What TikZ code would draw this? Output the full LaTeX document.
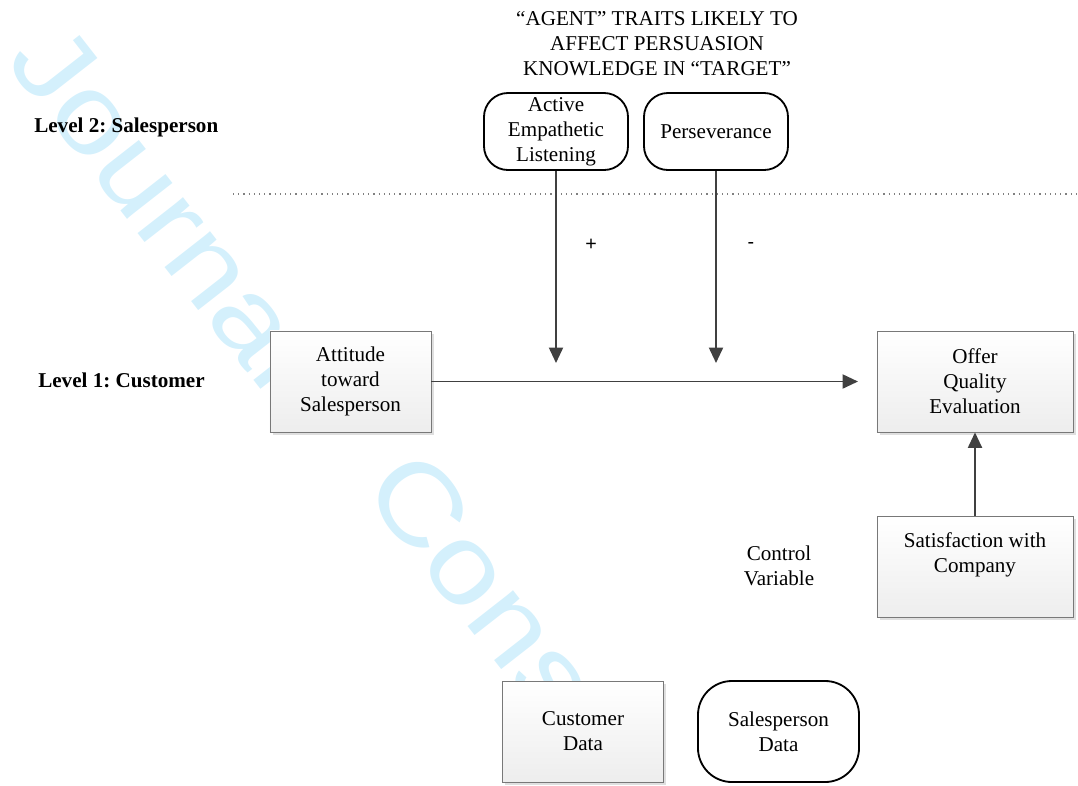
\documentclass[tikz,border=0pt]{standalone}
\usepackage{fontspec}
\setmainfont{Liberation Serif}
\newfontfamily\arialfont{Liberation Sans}
\usetikzlibrary{arrows.meta, positioning, shadows}
\frenchspacing

\definecolor{wmblue}{RGB}{212,240,252}
\definecolor{linegray}{RGB}{64,64,64}
\definecolor{boxgray}{RGB}{120,120,120}

\begin{document}
\begin{tikzpicture}[x=0.025cm, y=-0.025cm, >={Triangle[length=11pt,width=10pt]}, font=\fontsize{15}{17.8}\selectfont]
      \useasboundingbox (0,0) rectangle (1078,785);

      % Define the style for the nodes
      \tikzstyle{databox}=[draw=boxgray, line width=0.6pt, top color=white, bottom color=gray!14, drop shadow={shadow xshift=2pt, shadow yshift=-2pt, fill=gray!35, opacity=0.7}, minimum width=4.025cm, minimum height=2.525cm, align=center, inner sep=0pt]
      \tikzstyle{traitbox}=[draw, line width=1.3pt, rounded corners=0.6cm, fill=white, minimum width=3.6cm, minimum height=1.925cm, align=center, inner sep=0pt]
      \tikzstyle{link}=[draw=linegray, line width=1.4pt, ->]
      \tikzstyle{watermark}=[rotate=-52, xscale=1.18, inner sep=0pt, text=wmblue, font=\arialfont\fontsize{78}{78}\selectfont]

      % Watermark
      \node[watermark] (wmone) at (166,205) {Journal};
      \node[watermark] (wmtwo) at (483,585) {Cons};

      % Levels
      \node[font=\fontsize{15}{18}\selectfont\bfseries, anchor=west, inner sep=0pt] (lvltwo) at (34,127) {Level 2: Salesperson};
      \node[font=\fontsize{15}{18}\selectfont\bfseries, anchor=west, inner sep=0pt] (lvlone) at (38,380) {Level 1: Customer};
      \draw[gray, line width=0.8pt, dash pattern=on 0.8pt off 2.9pt] (233,194) -- (1078,194);

      % Title
      \node[align=center] (title) at (657,44) {“AGENT” TRAITS LIKELY TO\\AFFECT PERSUASION\\KNOWLEDGE IN “TARGET”};

      % Salesperson traits
      \node[traitbox] (ael) at (556,131.5) {Active\\Empathetic\\Listening};
      \node[traitbox] (pers) at (716,131.5) {Perseverance};

      % Customer nodes
      \node[databox] (att) at (350.5,381.5) {Attitude\\toward\\Salesperson};
      \node[databox, minimum width=4.9cm] (oqe) at (975,381.5) {Offer\\Quality\\Evaluation};
      \node[databox, minimum width=4.9cm, text height=1.4cm, text depth=1.125cm] (sat) at (975,567) {Satisfaction with\\Company};
      \node[align=center] (ctrl) at (779,566) {Control\\Variable};

      % Legend
      \node[databox] (cust) at (583,731.5) {Customer\\Data};
      \node[traitbox, minimum width=4.025cm, minimum height=2.525cm, rounded corners=0.85cm] (spd) at (778.5,731.5) {Salesperson\\Data};

      % Edges
      \coordinate (aeltip) at (556,363);
      \coordinate (perstip) at (716,363);
      \coordinate (atttip) at (858,381.5);
      \draw[link] (ael) -- (aeltip);
      \draw[link] (pers) -- (perstip);
      \draw[link] (att) -- (atttip);
      \draw[link] (sat) -- (oqe);

      \node[font=\arialfont\fontsize{14}{14}\selectfont] (plus) at (591,245) {+};
      \node[font=\arialfont\fontsize{14}{14}\selectfont] (minus) at (751,245) {-};

    \end{tikzpicture}
\end{document}
